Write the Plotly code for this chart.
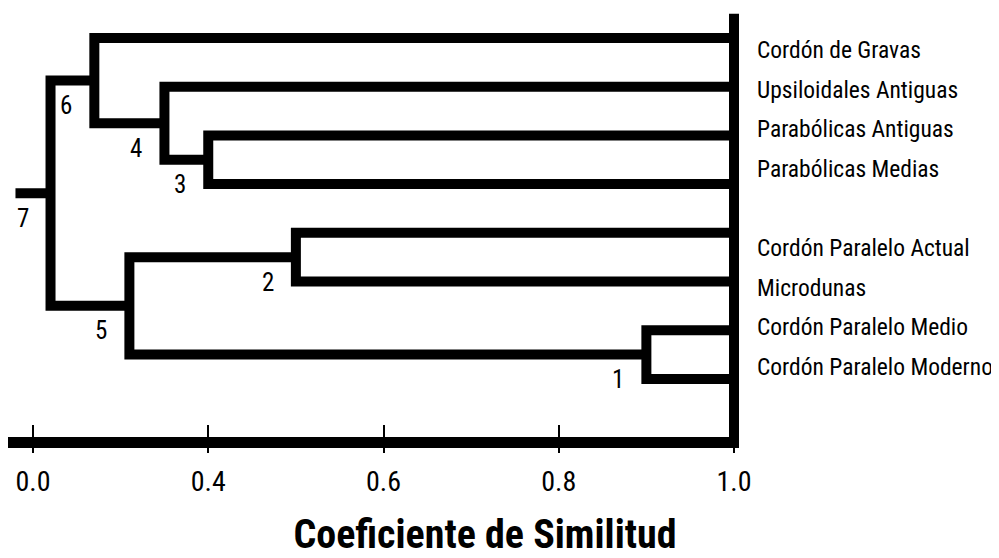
import plotly.graph_objects as go

# ---------------- data ----------------
leaf_labels = [
    "Cordón de Gravas",
    "Upsiloidales Antiguas",
    "Parabólicas Antiguas",
    "Parabólicas Medias",
    "Cordón Paralelo Actual",
    "Microdunas",
    "Cordón Paralelo Medio",
    "Cordón Paralelo Moderno",
]
merge_ids = [1, 2, 3, 4, 5, 6, 7]
merge_a = ["Cordón Paralelo Medio", "Cordón Paralelo Actual", "Parabólicas Antiguas",
           "Upsiloidales Antiguas", 2, "Cordón de Gravas", 6]
merge_b = ["Cordón Paralelo Moderno", "Microdunas", "Parabólicas Medias", 3, 1, 4, 5]
merge_sim = [0.90, 0.50, 0.40, 0.35, 0.31, 0.27, 0.22]
root_stub_start = 0.18

tick_vals = [0.2, 0.4, 0.6, 0.8, 1.0]
tick_text = ["0.0", "0.4", "0.6", "0.8", "1.0"]
x_title = "Coeficiente de Similitud"

# ---------------- style ----------------
FONT = "Roboto Condensed, Liberation Sans Narrow, Arial Narrow, DejaVu Sans Condensed, sans-serif"
LW = 10
# the page body adds an 8px offset, so the figure itself is 8px smaller
W, H = 991, 550
ML, MR, MT, MB = 0, 260, 0, 121
PX_PER_UNIT = 876.25
X_ONE = 726          # pixel of similarity 1.0 inside the figure
LEAF0, LEAF_STEP = 30, 48.7
LAB0, LAB_STEP = 42, 39.6
PLOT_BOTTOM = H - MB

# ---------------- layout of the tree ----------------
pos = {name: (1.0, i) for i, name in enumerate(leaf_labels)}
children = {}
xs, ys = [], []
for nid, a, b, s in zip(merge_ids, merge_a, merge_b, merge_sim):
    xa, ya = pos[a]
    xb, yb = pos[b]
    xs += [xa, s, s, xb, None]
    ys += [ya, ya, yb, yb, None]
    pos[nid] = (s, (ya + yb) / 2)
    children[nid] = (a, b)

root = merge_ids[-1]
rx, ry = pos[root]
xs += [rx, root_stub_start, None]
ys += [ry, ry, None]

def leaves_of(n):
    if n in children:
        a, b = children[n]
        return leaves_of(a) + leaves_of(b)
    return [n]

top_group = set(leaves_of(children[root][0]))
slots = [i + (0 if name in top_group else 1) for i, name in enumerate(leaf_labels)]

y_range = [(PLOT_BOTTOM - LEAF0) / LEAF_STEP, -LEAF0 / LEAF_STEP]
y2_range = [(PLOT_BOTTOM - LAB0) / LAB_STEP, -LAB0 / LAB_STEP]
x_range = [1 - (X_ONE - ML) / PX_PER_UNIT, 1 + (W - MR - X_ONE) / PX_PER_UNIT]

fig = go.Figure()
fig.add_trace(go.Scatter(x=xs, y=ys, mode="lines",
                         line=dict(color="black", width=LW),
                         hoverinfo="skip", showlegend=False))
# similarity 1.0 baseline
fig.add_trace(go.Scatter(x=[1.0, 1.0], y=[-0.5, y_range[0]], mode="lines",
                         line=dict(color="black", width=LW),
                         hoverinfo="skip", showlegend=False))
# helpers so the overlay axes exist
fig.add_trace(go.Scatter(x=[1.0] * len(slots), y=slots, yaxis="y2", mode="markers",
                         marker=dict(opacity=0), hoverinfo="skip", showlegend=False))
fig.add_trace(go.Scatter(x=tick_vals, y=[0] * len(tick_vals), xaxis="x2", mode="markers",
                         marker=dict(opacity=0), hoverinfo="skip", showlegend=False))

for nid in merge_ids:
    nx, ny = pos[nid]
    fig.add_annotation(x=nx, y=ny, text=str(nid), showarrow=False,
                       xanchor="center", yanchor="middle", xshift=-28, yshift=-25,
                       font=dict(family=FONT, size=25, color="black"))

fig.update_layout(
    width=W, height=H,
    margin=dict(l=ML, r=MR, t=MT, b=MB, autoexpand=False),
    paper_bgcolor="white", plot_bgcolor="white",
    font=dict(family=FONT, color="black"),
    title=dict(text="<b>" + x_title + "</b>", font=dict(family=FONT, size=40, color="black"),
               x=477 / W, xref="container", xanchor="center",
               y=(H - 526) / H, yref="container", yanchor="middle"),
    xaxis=dict(range=x_range, tickmode="array", tickvals=tick_vals, ticktext=tick_text,
               ticks="inside", ticklen=12, tickwidth=1.5, tickcolor="black",
               showline=True, linewidth=11, linecolor="black",
               showgrid=False, zeroline=False, automargin=False,
               tickfont=dict(family=FONT, size=28, color="black"),
               ticklabelstandoff=9),
    xaxis2=dict(range=x_range, overlaying="x", anchor="y", side="bottom",
                tickmode="array", tickvals=tick_vals, showticklabels=False,
                ticks="outside", ticklen=5, tickwidth=1.5, tickcolor="black",
                showline=True, linewidth=11, linecolor="black",
                showgrid=False, zeroline=False, automargin=False),
    yaxis=dict(range=y_range, showticklabels=False, showgrid=False, zeroline=False,
               showline=False, ticks="", automargin=False),
    yaxis2=dict(range=y2_range, overlaying="y", side="right", anchor="x",
                tickmode="array", tickvals=slots, ticktext=leaf_labels,
                ticks="", showline=False, showgrid=False, zeroline=False,
                ticklabelstandoff=17, automargin=False,
                tickfont=dict(family=FONT, size=23.5, color="black")),
)

fig.write_html("out.html")
